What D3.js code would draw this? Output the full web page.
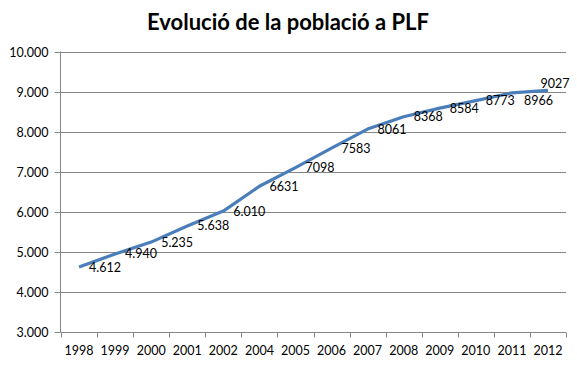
<!DOCTYPE html>
<html>
<head>
<meta charset="utf-8">
<script src="https://cdn.jsdelivr.net/npm/d3@7"></script>
<style>
  html, body { margin: 0; padding: 0; background: #ffffff; }
  svg { display: block; }
  text { font-family: Lato, "Liberation Sans", sans-serif; fill: #000; }
</style>
</head>
<body>
<script>
const years = ["1998","1999","2000","2001","2002","2004","2005","2006","2007","2008","2009","2010","2011","2012"];
const population = [4612, 4940, 5235, 5638, 6010, 6631, 7098, 7583, 8061, 8368, 8584, 8773, 8966, 9027];
const valueLabels = ["4.612","4.940","5.235","5.638","6.010","6631","7098","7583","8061","8368","8584","8773","8966","9027"];
const yTicks = [3000, 4000, 5000, 6000, 7000, 8000, 9000, 10000];
const yTickLabels = ["3.000","4.000","5.000","6.000","7.000","8.000","9.000","10.000"];
const title = "Evolució de la població a PLF";

const W = 577, H = 372;
const svg = d3.select("body").append("svg").attr("width", W).attr("height", H);
svg.append("rect").attr("width", W).attr("height", H).attr("fill", "#fff");

const x = d3.scaleBand().domain(years).range([61, 566]).paddingInner(0).paddingOuter(0);
const y = d3.scaleLinear().domain([3000, 10000]).range([331.5, 51.5]);

// title, fitted to its width in the reference
const t = svg.append("text").attr("x", 288).attr("y", 30)
  .attr("text-anchor", "middle").attr("font-weight", "bold")
  .attr("font-size", 22).text(title);
const tw = t.node().getComputedTextLength();
t.attr("font-size", 22 * 282 / tw);

// gridlines
svg.append("g").selectAll("line").data(yTicks).join("line")
  .attr("x1", 61).attr("x2", 566)
  .attr("y1", d => Math.round(y(d)) + 0.5).attr("y2", d => Math.round(y(d)) + 0.5)
  .attr("stroke", "#868686").attr("stroke-width", 1);

// y axis
const yAxis = d3.axisLeft(y).tickValues(yTicks)
  .tickFormat((d, i) => yTickLabels[i]).tickSize(6).tickPadding(6);
const gy = svg.append("g").attr("transform", "translate(60.5,0)").call(yAxis);
gy.select(".domain").attr("stroke", "#868686").attr("d", `M0,${y(10000)}V${Math.round(y(3000))+0.5}`);
gy.selectAll(".tick line").attr("stroke", "#868686");
gy.selectAll(".tick").attr("transform", d => `translate(0,${Math.round(y(d)) + 0.5})`);
gy.selectAll(".tick text").attr("font-size", 12.5).attr("font-family", "Lato, 'Liberation Sans', sans-serif").attr("fill", "#000");

// x axis
const gx = svg.append("g").attr("transform", `translate(0,${Math.round(y(3000)) + 0.5})`);
gx.append("line").attr("x1", 61).attr("x2", 566).attr("stroke", "#868686");
const boundaries = years.map(d => x(d)).concat([x(years[years.length - 1]) + x.bandwidth()]);
gx.selectAll("line.tk").data(boundaries).join("line").attr("class", "tk")
  .attr("x1", d => Math.round(d) + 0.5).attr("x2", d => Math.round(d) + 0.5)
  .attr("y1", 0).attr("y2", 5).attr("stroke", "#868686");
gx.selectAll("text").data(years).join("text")
  .attr("x", d => x(d) + x.bandwidth() / 2).attr("y", 22)
  .attr("text-anchor", "middle").attr("font-size", 12.5).text(d => d);

// line
const px = (d, i) => x(years[i]) + x.bandwidth() / 2;
const line = d3.line().x((d, i) => px(d, i)).y(d => y(d));
svg.append("path").datum(population).attr("d", line)
  .attr("fill", "none").attr("stroke", "#4a7ebb").attr("stroke-width", 3.2)
  .attr("stroke-linejoin", "round").attr("stroke-linecap", "butt");

// data labels (Excel "right" position; last two nudged as in reference)
svg.append("g").selectAll("text").data(population).join("text")
  .attr("x", (d, i) => i === population.length - 1 ? px(d, i) + 7 : px(d, i) + (i === population.length - 2 ? 12 : 10))
  .attr("y", (d, i) => i === population.length - 1 ? y(d) - 7 : y(d) + (i === population.length - 2 ? 8 : 0))
  .attr("text-anchor", (d, i) => i === population.length - 1 ? "middle" : "start")
  .attr("dominant-baseline", "central")
  .attr("font-size", 12.5)
  .text((d, i) => valueLabels[i]);
</script>
</body>
</html>
